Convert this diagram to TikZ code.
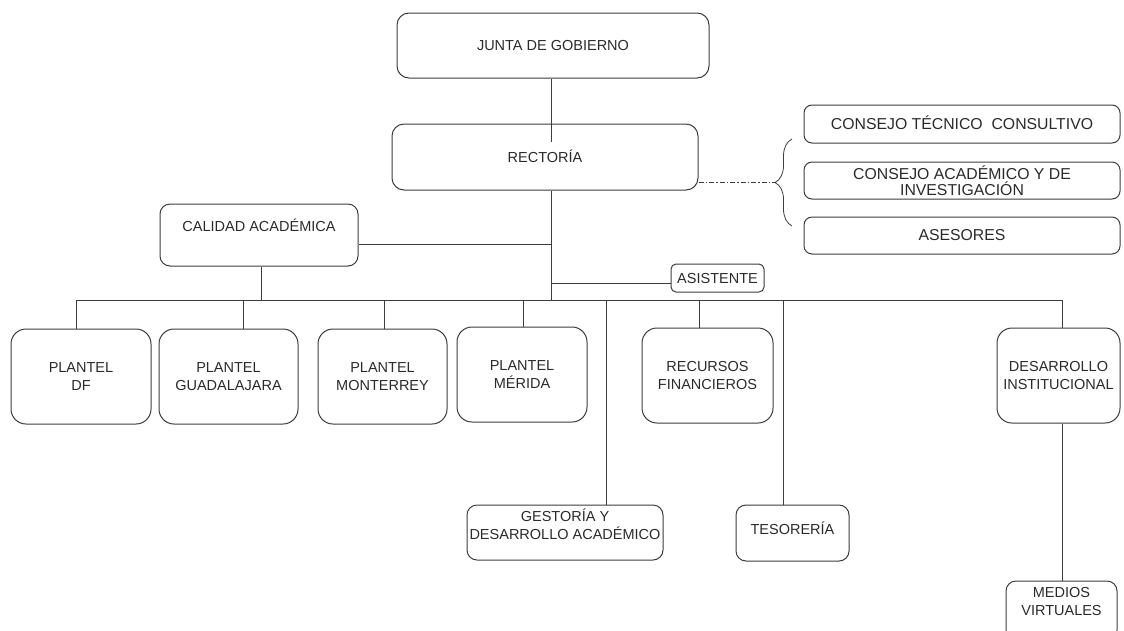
\documentclass[tikz,border=0pt]{standalone}
\usepackage{fontspec}
\setmainfont{Liberation Sans}
\usetikzlibrary{decorations.pathreplacing}
\definecolor{ln}{HTML}{3C3C3C}
\definecolor{tx}{HTML}{2A2A2A}
\newcommand\upby[2]{\raisebox{#1}[\height][\depth]{#2}}
\begin{document}
\begin{tikzpicture}[x=1pt,y=-1pt,
  box/.style={draw=ln, line width=1pt, rounded corners=#1, inner sep=0pt, text=tx,
    font=\fontsize{14.5}{18}\selectfont, align=center},
  box/.default=10pt,
  one/.style={text height=10.4pt, text depth=0pt},
  big/.style={font=\fontsize{15.8}{16}\selectfont},
  wire/.style={draw=ln, line width=1pt},
  sz/.style 2 args={minimum width=#1pt, minimum height=#2pt}]
\useasboundingbox (0,0) rectangle (1124,630);

% boxes
\node[box=12pt, one, sz={312}{65}] (junta) at (553,45.5) {JUNTA DE GOBIERNO};
\node[box=12pt, one, sz={306}{66}] (rect) at (545,157) {RECTORÍA};
\node[box=8pt, one, big, sz={316}{38}] (ctc) at (962,124) {CONSEJO TÉCNICO\ \ CONSULTIVO};
\node[box=8pt, big, sz={316}{37}] (cai) at (962,180.5) {CONSEJO ACADÉMICO Y DE\\INVESTIGACIÓN};
\node[box=8pt, one, big, sz={316}{37}] (ase) at (962,235.5) {ASESORES};
\node[box=10pt, one, sz={198}{62}] (cal) at (259,235) {\upby{9pt}{CALIDAD ACADÉMICA}};
\node[box=5pt, one, sz={93}{28}] (asis) at (717.5,278) {ASISTENTE};
\node[box=15pt, sz={140}{95}] (df) at (81,376.5) {PLANTEL\\DF};
\node[box=15pt, sz={139}{95}] (gua) at (228.5,376.5) {PLANTEL\\GUADALAJARA};
\node[box=15pt, sz={129}{95}] (mon) at (382.5,376.5) {PLANTEL\\MONTERREY};
\node[box=15pt, sz={130}{95}] (mer) at (522,374.5) {PLANTEL\\MÉRIDA};
\node[box=15pt, sz={131}{95}] (rec) at (707.5,375.5) {RECURSOS\\FINANCIEROS};
\node[box=15pt, sz={123}{95}] (des) at (1058.5,375.5) {DESARROLLO\\INSTITUCIONAL};
\node[box=10pt, sz={196}{55}] (ges) at (565,532.5) {\upby{6pt}{\begin{tabular}{@{}c@{}}GESTORÍA Y\\DESARROLLO ACADÉMICO\end{tabular}}};
\node[box=10pt, one, sz={113}{56}] (tes) at (792.5,533) {\upby{4pt}{TESORERÍA}};
\node[box=10pt, sz={111}{59}] (med) at (1061.5,610.5) {\upby{8pt}{\begin{tabular}{@{}c@{}}MEDIOS\\VIRTUALES\end{tabular}}};

% bus drop points
\coordinate (bdf)   at (76,300);
\coordinate (bgua)  at (243,300);
\coordinate (bcal)  at (261,300);
\coordinate (bmon)  at (384,300);
\coordinate (bmer)  at (523,300);
\coordinate (bmain) at (551,300);
\coordinate (bges)  at (606,300);
\coordinate (brec)  at (699,300);
\coordinate (btes)  at (783,300);
\coordinate (bdes)  at (1062,300);
\coordinate (jin)   at (551,142);
\coordinate (jcal)  at (551,244);
\coordinate (jasi)  at (551,283);
\coordinate (brtop) at (792,139);
\coordinate (brbot) at (792,226);
\coordinate (brtip) at (775,182.5);

% connectors
\draw[wire] (bdf) -- (bdes);
\draw[wire] (bmain |- junta.south) -- (jin);
\draw[wire] (bmain |- rect.south) -- (bmain);
\draw[wire] (cal.east |- jcal) -- (jcal);
\draw[wire] (jasi) -- (asis.west |- jasi);
\draw[wire] (bcal |- cal.south) -- (bcal);
\draw[wire] (bdf) -- (bdf |- df.north);
\draw[wire] (bgua) -- (bgua |- gua.north);
\draw[wire] (bmon) -- (bmon |- mon.north);
\draw[wire] (bmer) -- (bmer |- mer.north);
\draw[wire] (bges) -- (bges |- ges.north);
\draw[wire] (brec) -- (brec |- rec.north);
\draw[wire] (btes) -- (btes |- tes.north);
\draw[wire] (bdes) -- (bdes |- des.north);
\draw[wire] (bdes |- des.south) -- (bdes |- med.north);

% brace and dash-dot link
\draw[draw=ln, line width=0.8pt, decorate, decoration={brace, amplitude=17pt}] (brbot) -- (brtop);
\draw[draw=ln, line width=0.8pt, dash pattern=on 5pt off 2pt on 1.5pt off 2pt] (rect.east |- brtip) -- (brtip);
\end{tikzpicture}
\end{document}
